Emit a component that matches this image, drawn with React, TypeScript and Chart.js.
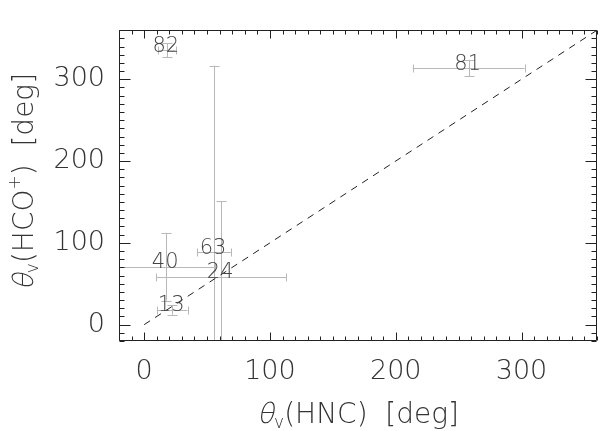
import React, { useEffect, useRef } from "react";
import { Chart, registerables } from "chart.js";

Chart.register(...registerables);

// ---- data ----
const sourceLabels = ["82", "81", "63", "40", "24", "13"];
const thetaHNC = [18, 258, 55.6, 17.5, 61.2, 22.3];
const thetaHCO = [335.5, 313.7, 88.6, 70.8, 58.4, 18.1];
const errHNC = [7, 44.5, 13.3, 39, 51.7, 12.2];
const errHCO = [8.5, 10, 228, 41.5, 92.5, 6];
const identityLine = [0, 360];
const axisMin = -20;
const axisMax = 360;
const majorStep = 100;
const minorStep = 10;

const FONT = '"DejaVu Sans", "Noto Sans", sans-serif';
const TEXT = "#333";
const ERR = "#b8b8b8";

function drawParts(ctx: CanvasRenderingContext2D, parts: any[], cx: number, cy: number) {
  let total = 0;
  for (const p of parts) {
    ctx.font = `200 ${p.size}px ${FONT}`;
    p.w = ctx.measureText(p.text).width;
    total += p.w;
  }
  let x = cx - total / 2;
  for (const p of parts) {
    ctx.font = `200 ${p.size}px ${FONT}`;
    if (p.italic) {
      ctx.save();
      ctx.translate(x, cy + (p.dy || 0));
      ctx.transform(1, 0, -0.22, 1, 0, 0);
      ctx.fillText(p.text, 0, 0);
      ctx.restore();
    } else {
      ctx.fillText(p.text, x, cy + (p.dy || 0));
    }
    x += p.w;
  }
}

const decor = {
  id: "decor",
  beforeDatasetsDraw(chart: any) {
    const { ctx, chartArea: a, scales } = chart;
    const xs = scales.x;
    const ys = scales.y;
    ctx.save();
    ctx.beginPath();
    ctx.rect(a.left, a.top, a.right - a.left, a.bottom - a.top);
    ctx.clip();
    ctx.strokeStyle = ERR;
    ctx.lineWidth = 1;
    const cap = 4;
    for (let i = 0; i < sourceLabels.length; i++) {
      const px = Math.round(xs.getPixelForValue(thetaHNC[i])) + 0.5;
      const py = Math.round(ys.getPixelForValue(thetaHCO[i])) + 0.5;
      const x0 = xs.getPixelForValue(thetaHNC[i] - errHNC[i]);
      const x1 = xs.getPixelForValue(thetaHNC[i] + errHNC[i]);
      const y0 = ys.getPixelForValue(thetaHCO[i] - errHCO[i]);
      const y1 = ys.getPixelForValue(thetaHCO[i] + errHCO[i]);
      ctx.beginPath();
      ctx.moveTo(x0, py);
      ctx.lineTo(x1, py);
      ctx.moveTo(Math.round(x0) + 0.5, py - cap);
      ctx.lineTo(Math.round(x0) + 0.5, py + cap);
      ctx.moveTo(Math.round(x1) + 0.5, py - cap);
      ctx.lineTo(Math.round(x1) + 0.5, py + cap);
      ctx.moveTo(px, y0);
      ctx.lineTo(px, y1);
      ctx.moveTo(px - cap - 1, Math.round(y0) + 0.5);
      ctx.lineTo(px + cap + 1, Math.round(y0) + 0.5);
      ctx.moveTo(px - cap - 1, Math.round(y1) + 0.5);
      ctx.lineTo(px + cap + 1, Math.round(y1) + 0.5);
      ctx.stroke();
    }
    ctx.restore();
  },
  afterDatasetsDraw(chart: any) {
    const { ctx, chartArea: a, scales } = chart;
    const xs = scales.x;
    const ys = scales.y;
    ctx.save();
    // point labels
    ctx.fillStyle = "#444";
    ctx.font = `200 21px ${FONT}`;
    ctx.textAlign = "center";
    ctx.textBaseline = "alphabetic";
    for (let i = 0; i < sourceLabels.length; i++) {
      const px = xs.getPixelForValue(thetaHNC[i]);
      const py = ys.getPixelForValue(thetaHCO[i]);
      ctx.fillText(sourceLabels[i], px - 1, py + 1.5);
    }
    // frame
    ctx.strokeStyle = "#222";
    ctx.lineWidth = 1;
    const L = Math.round(a.left) + 0.5;
    const R = Math.round(a.right) - 0.5;
    const T = Math.round(a.top) + 0.5;
    const B = Math.round(a.bottom) - 0.5;
    ctx.beginPath();
    ctx.rect(L, T, R - L, B - T);
    // ticks
    for (let v = axisMin; v <= axisMax; v += minorStep) {
      const major = v % majorStep === 0;
      const px = Math.round(xs.getPixelForValue(v)) + 0.5;
      const lx = major ? 8 : 4;
      ctx.moveTo(px, B);
      ctx.lineTo(px, B - lx);
      ctx.moveTo(px, T);
      ctx.lineTo(px, T + lx);
      const py = Math.round(ys.getPixelForValue(v)) + 0.5;
      const ly = major ? 11 : 5;
      ctx.moveTo(L, py);
      ctx.lineTo(L + ly, py);
      ctx.moveTo(R, py);
      ctx.lineTo(R - ly, py);
    }
    ctx.stroke();
    // axis titles
    ctx.fillStyle = TEXT;
    ctx.textAlign = "left";
    ctx.textBaseline = "alphabetic";
    const cx = (a.left + a.right) / 2;
    drawParts(
      ctx,
      [
        { text: "θ", size: 28, italic: true },
        { text: "v", size: 17, dy: 5 },
        { text: "(HNC)  [deg]", size: 28 },
      ],
      cx,
      423
    );
    ctx.save();
    ctx.translate(33, (a.top + a.bottom) / 2 - 4);
    ctx.rotate(-Math.PI / 2);
    drawParts(
      ctx,
      [
        { text: "θ", size: 28, italic: true },
        { text: "v", size: 17, dy: 5 },
        { text: "(HCO", size: 28 },
        { text: "+", size: 17, dy: -13 },
        { text: ")  [deg]", size: 28 },
      ],
      0,
      0
    );
    ctx.restore();
    ctx.restore();
  },
};

export default function App() {
  const ref = useRef<HTMLCanvasElement>(null);
  useEffect(() => {
    const points = thetaHNC.map((x, i) => ({ x, y: thetaHCO[i] }));
    const line = identityLine.map((v) => ({ x: v, y: v }));
    const tickFont = { family: FONT, size: 27, weight: "200" as any };
    const chart = new Chart(ref.current as HTMLCanvasElement, {
      type: "scatter",
      data: {
        datasets: [
          { data: points, pointRadius: 0, showLine: false },
          {
            data: line,
            showLine: true,
            pointRadius: 0,
            borderColor: "#222",
            borderWidth: 1,
            borderDash: [7, 6],
          },
        ],
      },
      options: {
        animation: false,
        responsive: true,
        maintainAspectRatio: false,
        layout: { padding: { top: 5, right: 3, left: 0, bottom: 0 } },
        plugins: { legend: { display: false }, tooltip: { enabled: false } },
        scales: {
          x: {
            type: "linear",
            min: axisMin,
            max: axisMax,
            grid: { display: false, drawTicks: false },
            border: { display: false },
            ticks: {
              stepSize: majorStep,
              includeBounds: false,
              font: tickFont,
              color: TEXT,
              padding: 15,
              maxRotation: 0,
              autoSkip: false,
            },
            afterFit: (s: any) => {
              s.height = 90;
            },
          },
          y: {
            type: "linear",
            min: axisMin,
            max: axisMax,
            grid: { display: false, drawTicks: false },
            border: { display: false },
            ticks: {
              stepSize: majorStep,
              includeBounds: false,
              font: tickFont,
              color: TEXT,
              padding: 14,
              autoSkip: false,
            },
            afterFit: (s: any) => {
              s.width = 119;
            },
          },
        },
      },
      plugins: [decor],
    });
    return () => chart.destroy();
  }, []);
  return (
    <div style={{ position: "fixed", left: 0, top: 0, width: 600, height: 431, background: "#fff" }}>
      <canvas ref={ref} />
    </div>
  );
}
